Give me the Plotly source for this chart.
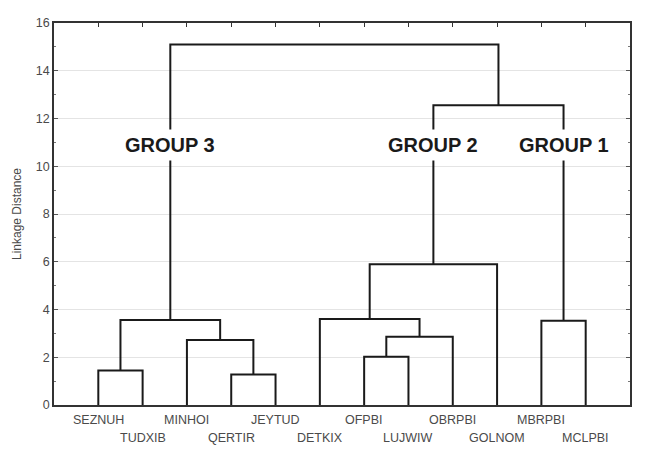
import plotly.graph_objects as go

# ---- data ----
leaves = ["SEZNUH", "TUDXIB", "MINHOI", "QERTIR", "JEYTUD", "DETKIX",
          "OFPBI", "LUJWIW", "OBRPBI", "GOLNOM", "MBRPBI", "MCLPBI"]
# merges: (name, left child, right child, linkage distance)
merge_names = ["M1", "M2", "M3", "M4", "M5", "M6", "M7", "M8", "M9", "M10", "M11"]
merge_left = ["SEZNUH", "QERTIR", "MINHOI", "M1", "OFPBI", "M5", "DETKIX", "M7", "MBRPBI", "M8", "M4"]
merge_right = ["TUDXIB", "JEYTUD", "M2", "M3", "LUJWIW", "OBRPBI", "M6", "GOLNOM", "MCLPBI", "M9", "M10"]
merge_height = [1.45, 1.28, 2.72, 3.56, 2.02, 2.86, 3.60, 5.90, 3.53, 12.55, 15.10]
group_labels = ["GROUP 3", "GROUP 2", "GROUP 1"]
group_nodes = ["M4", "M8", "M9"]
group_label_y = 10.9
y_ticks = [0, 2, 4, 6, 8, 10, 12, 14, 16]

# ---- build ----
pos = {name: i + 1 for i, name in enumerate(leaves)}
hgt = {name: 0.0 for name in leaves}

fig = go.Figure()
for n, l, r, h in zip(merge_names, merge_left, merge_right, merge_height):
    xl, xr = pos[l], pos[r]
    fig.add_trace(go.Scatter(
        x=[xl, xl, xr, xr], y=[hgt[l], h, h, hgt[r]],
        mode="lines", line=dict(color="#1a1a1a", width=2),
        hoverinfo="skip", showlegend=False))
    pos[n] = (xl + xr) / 2
    hgt[n] = h

# dummy trace for top axis
fig.add_trace(go.Scatter(x=[0, 13], y=[0, 0], xaxis="x2", mode="markers",
                         marker=dict(opacity=0), hoverinfo="skip", showlegend=False))

FONT = "Liberation Sans, Arial"
annotations = []
for i, name in enumerate(leaves):
    annotations.append(dict(
        x=i + 1, y=0, xref="x", yref="paper", text=name, showarrow=False,
        yshift=-15 if i % 2 == 0 else -33, yanchor="middle", xanchor="center",
        font=dict(family=FONT, size=12.5, color="#4a4a4a")))
for lbl, node in zip(group_labels, group_nodes):
    annotations.append(dict(
        x=pos[node], y=group_label_y, xref="x", yref="y", text="<b>%s</b>" % lbl,
        showarrow=False, bgcolor="white", borderpad=4,
        font=dict(family=FONT, size=20, color="#1a1a1a")))

fig.update_layout(
    width=644, height=447,
    margin=dict(l=46, r=22, t=15, b=50, autoexpand=False),
    paper_bgcolor="white", plot_bgcolor="white",
    showlegend=False,
    annotations=annotations,
    xaxis=dict(range=[0, 13], showgrid=False, zeroline=False, showticklabels=False,
               ticks="", showline=True, linecolor="#333", linewidth=1.5),
    xaxis2=dict(range=[0, 13], overlaying="x", side="top", showgrid=False,
                zeroline=False, showticklabels=False, ticks="inside", ticklen=4,
                tickcolor="#333", tickvals=list(range(1, 13)),
                showline=True, linecolor="#333", linewidth=1.5),
    yaxis=dict(range=[0, 16], tickvals=y_ticks, showgrid=True, gridcolor="#e4e4e4",
               zeroline=False, ticks="inside", ticklen=4, tickcolor="#555",
               showline=True, linecolor="#333", linewidth=1.5, mirror="ticks",
               minor=dict(dtick=1, ticks="inside", ticklen=2, tickcolor="#777", showgrid=False),
               tickfont=dict(family=FONT, size=12.5, color="#4a4a4a"),
               automargin=False,
               title=dict(text="Linkage Distance", standoff=12,
                          font=dict(family=FONT, size=12, color="#4a4a4a"))),
)

fig.write_html("out.html")
